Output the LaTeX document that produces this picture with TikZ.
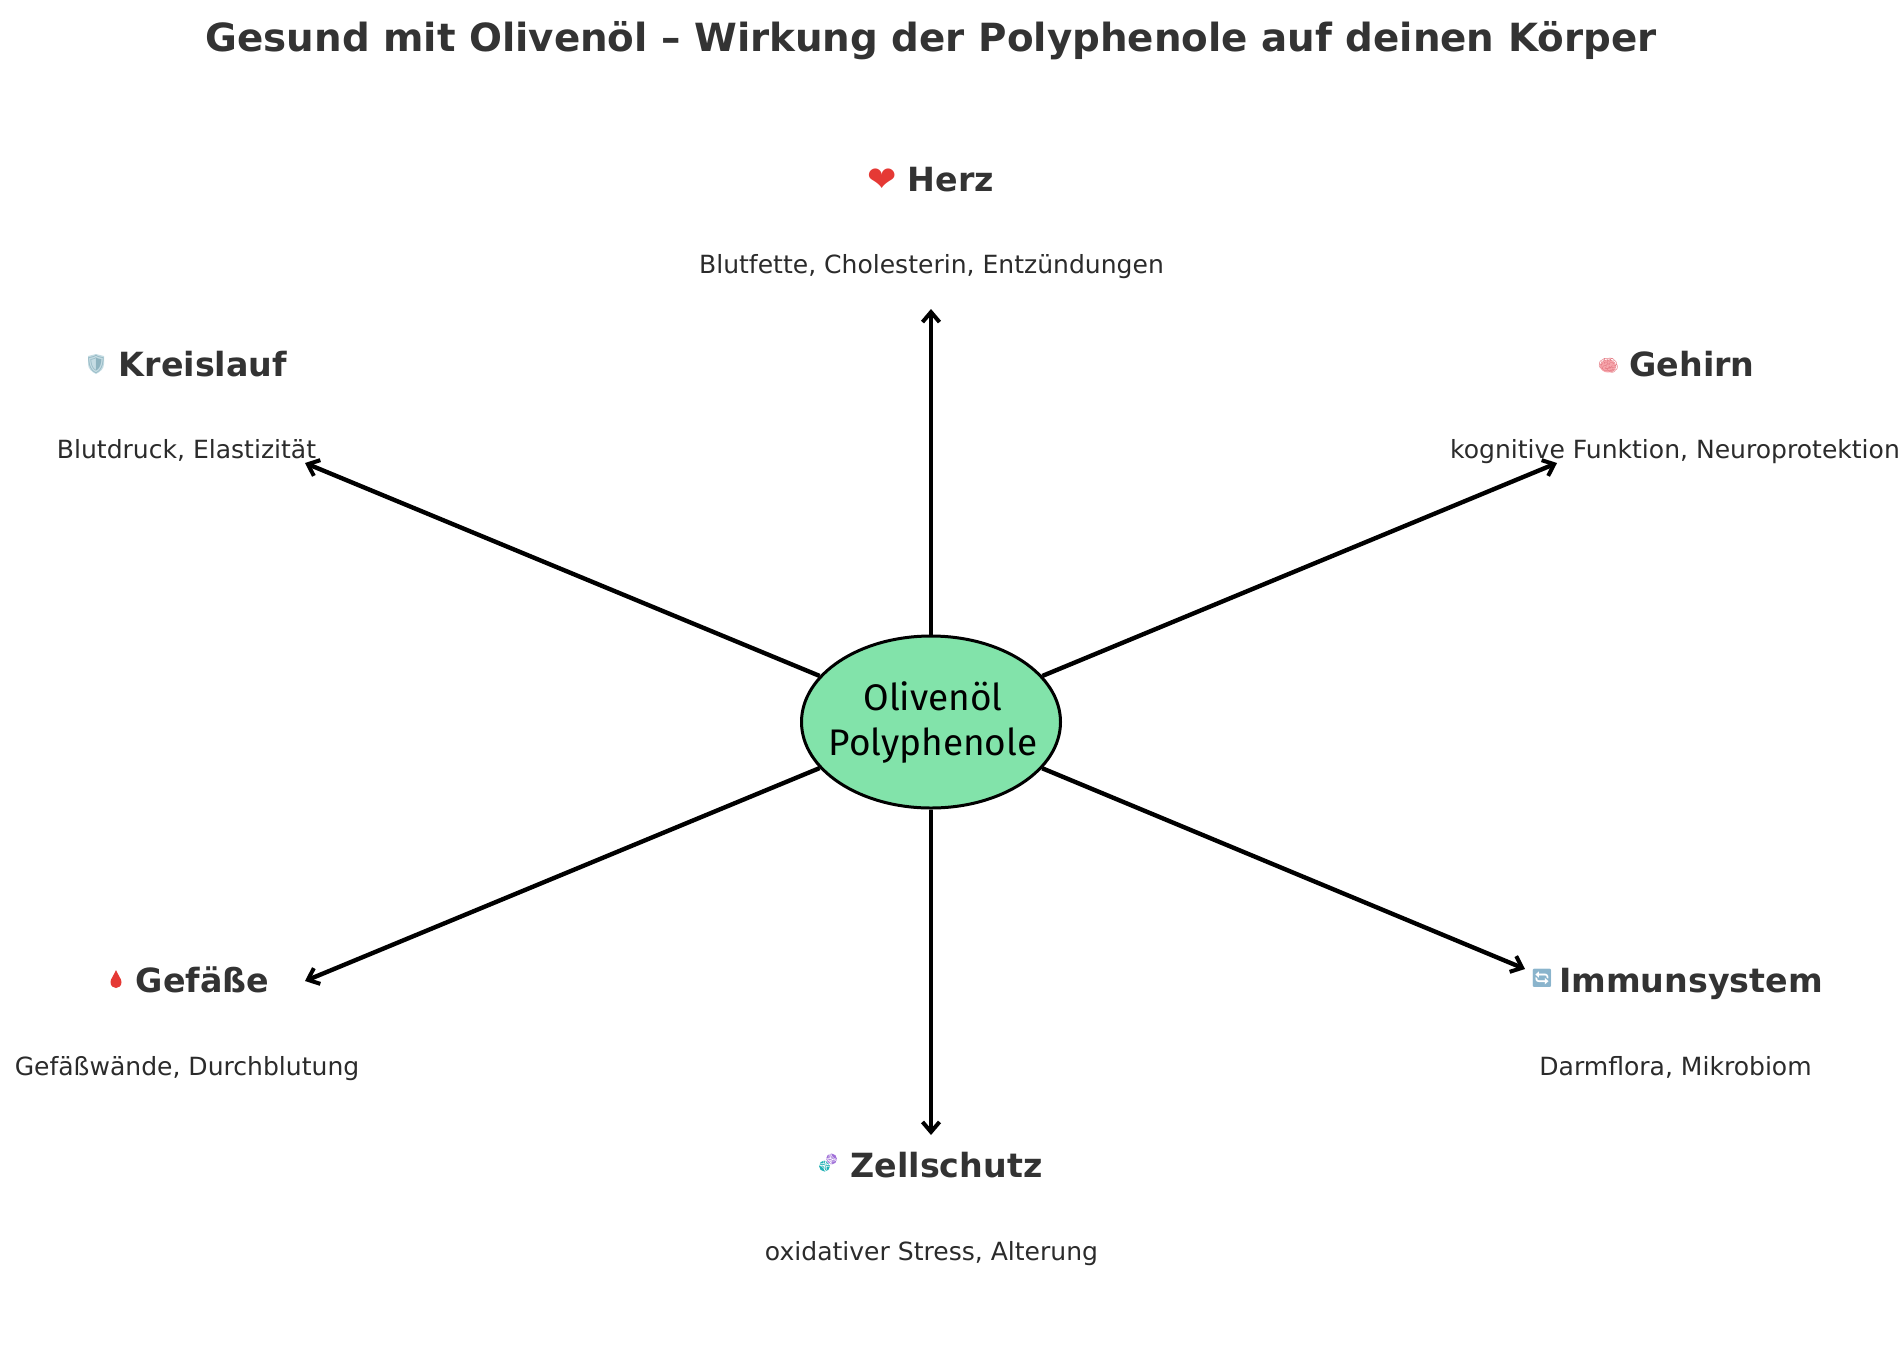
\documentclass[tikz,border=0pt]{standalone}
\usepackage{fontspec}
\setmainfont{DejaVu Sans}
\newfontfamily\emojifont{Noto Emoji}
\newfontfamily\centrefont{Fira Sans}
\usetikzlibrary{arrows.meta,shapes.geometric}
\definecolor{inkdark}{HTML}{333333}
\definecolor{subink}{HTML}{2B2B2B}
\definecolor{oilgreen}{HTML}{82E3AA}
\definecolor{heartred}{HTML}{E53935}
\definecolor{shieldfill}{HTML}{C5DCE3}
\definecolor{shieldline}{HTML}{8DB3BF}
\definecolor{brainpink}{HTML}{F7A6AC}
\definecolor{brainline}{HTML}{E57F88}
\definecolor{squareblue}{HTML}{8AB4CC}
\definecolor{dnateal}{HTML}{1FB0B4}
\definecolor{dnapurple}{HTML}{A070D8}
\tikzset{
  x=1pt,y=-1pt,
  titlestyle/.style={inner sep=0,anchor=base,text=inkdark,font=\fontsize{38.8}{44}\selectfont\bfseries},
  headstyle/.style={inner sep=0,anchor=base,text=inkdark,font=\fontsize{33.3}{40}\selectfont\bfseries},
  substyle/.style={inner sep=0,anchor=base,text=subink,font=\fontsize{25.05}{30}\selectfont},
  centrestyle/.style={ellipse,draw=black,line width=3pt,fill=oilgreen,minimum width=259pt,minimum height=172pt,inner sep=0},
  centretext/.style={inner sep=0,align=center,text=black,font=\centrefont\fontsize{37}{45}\selectfont},
  link/.style={draw=black,line width=4.4pt,-{Straight Barb[length=10pt,width=17pt,line width=4pt]}},
  iconstyle/.style={inner sep=0,anchor=center}
}
\begin{document}
\begin{tikzpicture}
\useasboundingbox (0,0) rectangle (1900,1358);
\node[titlestyle] (title) at (931,51.5) {Gesund mit Olivenöl – Wirkung der Polyphenole auf deinen Körper};

\node[centrestyle] (c) at (931,722) {};
\node[centretext] (ct) at (933,722) {Olivenöl\\Polyphenole};

\coordinate (tH) at (931,309);
\coordinate (tK) at (305,463);
\coordinate (tG) at (1557,463);
\coordinate (tI) at (1525,969);
\coordinate (tF) at (305,981);
\coordinate (tZ) at (931,1135);
\foreach \t in {tH,tK,tG,tI,tF,tZ} \draw[link] (c) -- (\t);

\node[headstyle] (nH) at (951,191) {Herz};
\node[headstyle] (nK) at (203,376) {Kreislauf};
\node[headstyle] (nG) at (1692,376) {Gehirn};
\node[headstyle] (nI) at (1691,992) {Immunsystem};
\node[headstyle] (nF) at (202.5,992) {Gefäße};
\node[headstyle] (nZ) at (946.5,1177) {Zellschutz};

\node[substyle] (sH) at (931.5,273) {Blutfette, Cholesterin, Entzündungen};
\node[substyle] (sK) at (186.5,458.5) {Blutdruck, Elastizität};
\node[substyle] (sG) at (1675,458.5) {kognitive Funktion, Neuroprotektion};
\node[substyle] (sI) at (1675.5,1075) {Darmflora, Mikrobiom};
\node[substyle] (sF) at (187,1075) {Gefäßwände, Durchblutung};
\node[substyle] (sZ) at (931.5,1260) {oxidativer Stress, Alterung};

% icons
\node[iconstyle,text=heartred] (iH) at (882,180.5) {\fontsize{35}{35}\selectfont ❤};
\fill[shieldfill] (88,356) -- (96,354) -- (104,356) -- (104,364) .. controls (104,369) and (100,372) .. (96,374) .. controls (92,372) and (88,369) .. (88,364) -- cycle;
\node[iconstyle,text=shieldline] (iK) at (96,364) {\emojifont\fontsize{18}{18}\selectfont 🛡};
\fill[brainpink] (1608,366) ellipse [x radius=8,y radius=6.5];
\node[iconstyle,text=brainline] (iG) at (1608.5,366) {\emojifont\fontsize{17}{17}\selectfont 🧠};
\node[iconstyle,text=squareblue] (iI) at (1542,978.5) {\emojifont\fontsize{18}{18}\selectfont 🔄};
\fill[heartred] (116,970) .. controls (114,975) and (110.5,979) .. (110.5,982) .. controls (110.5,990) and (121.5,990) .. (121.5,982) .. controls (121.5,979) and (118,975) .. (116,970) -- cycle;
\fill[dnateal] (824.5,1166) circle [radius=5.5];
\fill[dnapurple] (831.5,1159) circle [radius=5.5];
\node[iconstyle,text=white,rotate=-45] (iZ) at (828,1162.5) {\emojifont\fontsize{16}{16}\selectfont 🧬};
\end{tikzpicture}
\end{document}
